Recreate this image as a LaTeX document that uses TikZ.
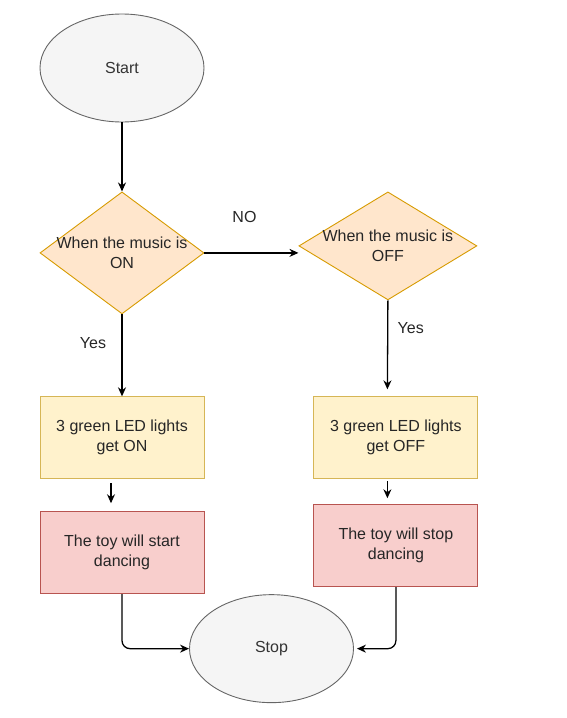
\documentclass[tikz,border=0pt]{standalone}
\usepackage{fontspec}
\setmainfont{Liberation Sans}
\usetikzlibrary{arrows.meta,positioning,shapes.geometric,calc}

\definecolor{grayfill}{HTML}{F5F5F5}
\definecolor{graydraw}{HTML}{666666}
\definecolor{orangefill}{HTML}{FFE6CC}
\definecolor{orangedraw}{HTML}{D79B00}
\definecolor{yellowfill}{HTML}{FFF2CC}
\definecolor{yellowdraw}{HTML}{D6B656}
\definecolor{redfill}{HTML}{F8CECC}
\definecolor{reddraw}{HTML}{B85450}
\definecolor{darktext}{HTML}{333333}

\tikzset{
  terminal/.style={ellipse, draw=graydraw, fill=grayfill, text=darktext, minimum width=164pt, minimum height=108pt, line width=0.9pt},
  decision/.style={diamond, draw=orangedraw, fill=orangefill, inner sep=0pt, line width=0.9pt},
  lightbox/.style={rectangle, draw=yellowdraw, fill=yellowfill, text=black!85, align=center, minimum width=164pt, minimum height=82pt, line width=0.9pt},
  dancebox/.style={rectangle, draw=reddraw, fill=redfill, text=black!85, align=center, minimum width=164pt, minimum height=82pt, line width=0.9pt},
  flow/.style={-{Stealth[length=9pt, width=8pt]}, line width=1.3pt}
}

\begin{document}
\begin{tikzpicture}[x=1pt, y=1pt, font=\fontsize{16}{20}\selectfont]
  \useasboundingbox (0,0) rectangle (567,-718);
  \node[terminal] (start) at (122,-68) {Start};
  \node[decision, minimum width=164pt, minimum height=122pt, below=69pt of start, label={[align=center, text=black!85]center:When the music is\\ON}] (on) {};
  \node[decision, minimum width=178pt, minimum height=108pt, right=94pt of on, yshift=7pt, label={[align=center, text=black!85]center:When the music is\\OFF}] (off) {};
  \node[lightbox, below=82pt of on] (on1) {3 green LED lights\\get ON};
  \node[lightbox, right=109pt of on1] (off1) {3 green LED lights\\get OFF};
  \node[dancebox, below=32pt of on1] (start1) {The toy will start\\dancing};
  \node[dancebox, below=25pt of off1] (stop1) {The toy will stop\\dancing};
  \node[terminal] (stop) at ($(start1.south)+(149.5,-54.5)$) {Stop};

  % loose arrow ends
  \coordinate (offyes) at ($(off1.north)+(-8.5,7)$);
  \coordinate (onout) at ($(on1.south)+(-11,-4)$);
  \coordinate (onin) at ($(start1.north)+(-11,8)$);
  \coordinate (offout) at ($(off1.south)+(-8.5,-2)$);
  \coordinate (offin) at ($(stop1.north)+(-8.5,6)$);

  \draw[flow] (start) -- (on);
  \draw[flow] (on.east) -- node[above=26pt, xshift=-7pt, text=black!85] {NO} (on.east -| off.west);
  \draw[flow] (on) -- node[pos=0.35, left=12pt, text=black!85] {Yes} (on1);
  \draw[flow] (off.south) -- node[pos=0.31, right=6pt, text=black!85] {Yes} (offyes);
  \draw[flow] (onout) -- (onin);
  \draw[flow] (offout) -- (offin);
  \draw[flow, rounded corners=8pt] (start1.south) |- (stop.west);
  \draw[flow, rounded corners=8pt, shorten >=3pt] (stop1.south) |- (stop.east);
\end{tikzpicture}
\end{document}
